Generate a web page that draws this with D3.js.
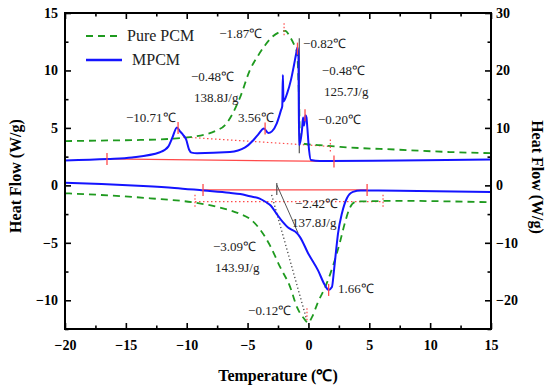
<!DOCTYPE html>
<html>
<head>
<meta charset="utf-8">
<script src="https://cdn.jsdelivr.net/npm/d3@7"></script>
<style>
  body { margin: 0; background: #fff; }
  text { font-family: "Liberation Serif", "Times New Roman", serif; }
</style>
</head>
<body>
<svg id="chart" width="550" height="389"></svg>
<script>
// ---- data ----
// MPCM, heating (upper blue, left axis W/g)
const mpcmHeatT = [-20, -16.5, -14.5, -12.2, -11.5, -11.2, -10.8, -10.55, -10.3, -10.05, -9.8, -9.6, -9.15, -6.45, -5.2, -4.55, -4.15, -3.65, -3.3, -3.0, -2.6, -2.25, -2.15, -2.1, -2.05, -1.75, -1.43, -1.18, -1.0, -0.9, -0.82, -0.77, -0.69, -0.53, -0.44, -0.36, -0.24, -0.16, -0.11, 0.05, 0.2, 0.95, 7.5, 15];
const mpcmHeatQ = [2.17, 2.3, 2.43, 2.88, 3.4, 4.1, 5.04, 4.7, 4.4, 4.0, 3.1, 2.85, 2.8, 2.9, 3.3, 3.9, 4.4, 4.95, 4.55, 4.7, 5.4, 6.55, 6.9, 9.6, 7.3, 8.0, 9.2, 10.5, 11.5, 12.0, 11.3, 3.5, 3.7, 4.8, 5.9, 5.2, 6.1, 5.9, 5.3, 3.1, 2.2, 2.12, 2.17, 2.25];
// Pure PCM, heating (upper green, right axis W/g)
const pureHeatT = [-20, -17.1, -13.8, -11.3, -9.7, -8.4, -7.6, -6.85, -6.3, -5.6, -4.8, -4.1, -3.56, -3.0, -2.33, -1.9, -1.5, -1.1, -0.94, -0.77, -0.69, -0.28, 0.95, 2.6, 7.5, 11.6, 15];
const pureHeatQ = [7.7, 7.8, 7.9, 8.1, 8.4, 8.9, 9.5, 10.5, 12.2, 15.4, 20.1, 22.7, 24.4, 25.8, 26.7, 26.9, 25.8, 24.1, 23.2, 14.9, 7.9, 7.2, 7.0, 6.7, 6.2, 5.8, 5.6];
// MPCM, cooling (lower blue, left axis)
const mpcmCoolT = [-20, -17, -14, -11, -8.6, -6.5, -5.6, -4.8, -4.0, -3.5, -3.1, -2.6, -2.1, -1.7, -1.35, -1.0, -0.69, -0.03, 0.79, 1.36, 1.66, 1.93, 2.1, 2.27, 2.43, 2.76, 3.17, 3.66, 4.3, 7.5, 15];
const mpcmCoolQ = [0.23, 0.12, -0.03, -0.22, -0.45, -0.65, -0.75, -0.95, -1.15, -1.45, -1.75, -2.5, -3.2, -3.65, -3.88, -4.1, -4.5, -5.9, -7.4, -8.7, -9.1, -8.85, -7.4, -5.7, -4.2, -2.4, -1.1, -0.57, -0.45, -0.46, -0.57];
// Pure PCM, cooling (lower green, right axis)
const pureCoolT = [-20, -17.1, -13, -9.35, -7.3, -5.6, -4.8, -4.0, -3.15, -2.33, -1.5, -0.94, -0.28, -0.03, 0.3, 0.79, 1.36, 2.02, 2.6, 3.0, 3.4, 3.83, 4.24, 7.5, 15];
const pureCoolQ = [-1.38, -1.67, -2.25, -3.0, -3.85, -4.98, -5.85, -7.6, -10.5, -14.2, -17.7, -21.2, -23.4, -23.95, -22.9, -20.3, -17.8, -14.0, -9.8, -6.5, -3.93, -2.9, -2.8, -2.7, -2.94];

// integration baselines (red)
const mpcmHeatBaseT = [-16.55, 2.1], mpcmHeatBaseQ = [2.3, 2.08];
const pureHeatBaseT = [-10.3, 1.8], pureHeatBaseQ = [8.42, 6.77];
const mpcmCoolBaseT = [-8.66, 4.82], mpcmCoolBaseQ = [-0.4, -0.4];
const pureCoolBaseT = [-9.32, 6.13], pureCoolBaseQ = [-2.84, -2.84];

// red tick marks: solid ones on MPCM (left axis), dotted on pure PCM (right axis)
const mpcmMarkT = [-10.71, -3.56, -0.9, -0.28, 1.66, -16.55, 2.1, -8.66, 4.82];
const mpcmMarkQ = [5.0, 4.95, 11.9, 6.1, -9.1, 2.3, 2.08, -0.4, -0.4];
const pureMarkT = [-2.0, -0.12, 1.8, -9.32, 6.13];
const pureMarkQ = [27.0, -22.6, 6.77, -2.84, -2.84];

// grey tangent / onset lines
const heatOnsetT = [-0.75, -0.75], heatOnsetQ = [2.8, 12.8];        // left axis
const coolTangentT = [-2.6, -0.85], coolTangentQ = [0.05, -4.15];  // left axis
const coolDotT = [-3.02, -0.14], coolDotQ = [-1.67, -23.4];        // right axis
const coolOnsetT = -2.6, coolOnsetQ = -0.4;

// annotations (position in temperature / left-axis units)
const noteText = ['−1.87℃', '−0.82℃', '−0.48℃', '138.8J/g', '−10.71℃', '3.56℃', '−0.48℃', '125.7J/g', '−0.20℃', '−2.42℃', '137.8J/g', '−3.09℃', '143.9J/g', '−0.12℃', '1.66℃'];
const noteT = [-7.33, -0.44, -9.65, -9.4, -14.99, -5.78, 1.1, 1.28, 0.79, -1.1, -1.35, -7.84, -7.67, -4.96, 2.43];
const noteQ = [12.83, 11.96, 9.09, 7.26, 5.52, 5.52, 9.61, 7.78, 5.34, -1.97, -3.62, -5.71, -7.54, -11.28, -9.36];

const seriesNames = ['Pure PCM', 'MPCM'];

// ---- layout ----
const svg = d3.select('#chart');
const L = 65, R = 491, T = 13, B = 329;
const green = '#1f9a1f', blue = '#1414ff', red = '#ff4a4a', grey = '#555';

const x = d3.scaleLinear().domain([-20, 15]).range([L, R]);
const yL = d3.scaleLinear().domain([-12.5, 15]).range([B, T]);
const yR = d3.scaleLinear().domain([-25, 30]).range([B, T]);

const zip = (a, b) => a.map((v, i) => [v, b[i]]);
const lineOn = (ys, curve) => d3.line().x(d => x(d[0])).y(d => ys(d[1])).curve(curve || d3.curveLinear);

svg.append('clipPath').attr('id', 'plot')
  .append('rect').attr('x', L).attr('y', T).attr('width', R - L).attr('height', B - T);

const g = svg.append('g').attr('clip-path', 'url(#plot)');

// baselines
g.append('path').attr('d', lineOn(yL)(zip(mpcmHeatBaseT, mpcmHeatBaseQ)))
  .attr('fill', 'none').attr('stroke', red).attr('stroke-width', 1.3);
g.append('path').attr('d', lineOn(yL)(zip(mpcmCoolBaseT, mpcmCoolBaseQ)))
  .attr('fill', 'none').attr('stroke', red).attr('stroke-width', 1.3);
g.append('path').attr('d', lineOn(yR)(zip(pureHeatBaseT, pureHeatBaseQ)))
  .attr('fill', 'none').attr('stroke', red).attr('stroke-width', 1.2).attr('stroke-dasharray', '1.5,2.5');
g.append('path').attr('d', lineOn(yR)(zip(pureCoolBaseT, pureCoolBaseQ)))
  .attr('fill', 'none').attr('stroke', red).attr('stroke-width', 1.2).attr('stroke-dasharray', '1.5,2.5');

// tangents
g.append('path').attr('d', lineOn(yL)(zip(heatOnsetT, heatOnsetQ)))
  .attr('stroke', grey).attr('stroke-width', 1.2);
g.append('path').attr('d', lineOn(yL)(zip(coolTangentT, coolTangentQ)))
  .attr('stroke', grey).attr('stroke-width', 1);
g.append('path').attr('d', lineOn(yR)(zip(coolDotT, coolDotQ)))
  .attr('stroke', '#333').attr('stroke-width', 1.2).attr('stroke-dasharray', '1.2,2.5');
g.append('line')
  .attr('x1', x(coolOnsetT)).attr('x2', x(coolOnsetT))
  .attr('y1', yL(coolOnsetQ) - 7).attr('y2', yL(coolOnsetQ) + 5)
  .attr('stroke', grey).attr('stroke-width', 1.2);

// curves
const curve = d3.curveMonotoneX;
[[pureHeatT, pureHeatQ], [pureCoolT, pureCoolQ]].forEach(([t, q]) => {
  g.append('path').attr('d', lineOn(yR, curve)(zip(t, q)))
    .attr('fill', 'none').attr('stroke', green).attr('stroke-width', 1.8)
    .attr('stroke-dasharray', '7,5');
});
[[mpcmHeatT, mpcmHeatQ], [mpcmCoolT, mpcmCoolQ]].forEach(([t, q]) => {
  g.append('path').attr('d', lineOn(yL, curve)(zip(t, q)))
    .attr('fill', 'none').attr('stroke', blue).attr('stroke-width', 2);
});

// red tick marks
g.selectAll('line.mk').data(zip(mpcmMarkT, mpcmMarkQ)).enter().append('line')
  .attr('x1', d => x(d[0])).attr('x2', d => x(d[0]))
  .attr('y1', d => yL(d[1]) - 6).attr('y2', d => yL(d[1]) + 6)
  .attr('stroke', red).attr('stroke-width', 1.3);
g.selectAll('line.mkd').data(zip(pureMarkT, pureMarkQ)).enter().append('line')
  .attr('x1', d => x(d[0])).attr('x2', d => x(d[0]))
  .attr('y1', d => yR(d[1]) - 7).attr('y2', d => yR(d[1]) + 7)
  .attr('stroke', red).attr('stroke-width', 1.2).attr('stroke-dasharray', '1.5,2');

// annotations
svg.append('g').selectAll('text').data(noteText).enter().append('text')
  .attr('x', (d, i) => x(noteT[i])).attr('y', (d, i) => yL(noteQ[i]))
  .attr('font-size', 13).attr('fill', '#222').text(d => d);

// ---- axes ----
const major = d3.range(-20, 15.1, 5), minor = d3.range(-17.5, 15, 5);
const leftMajor = d3.range(-10, 15.1, 5), leftMinor = d3.range(-12.5, 15, 5);
const rightMajor = d3.range(-20, 30.1, 10), rightMinor = d3.range(-25, 30, 10);

function styleAxis(sel) {
  sel.select('.domain').remove();
  sel.selectAll('line').attr('stroke', '#000').attr('stroke-width', 1.6);
  sel.selectAll('text').attr('font-size', 14).attr('font-weight', 'bold')
    .attr('font-family', '"Liberation Serif", "Times New Roman", serif').attr('fill', '#000');
}
const fmt = d3.format('d');

svg.append('g').attr('transform', `translate(0,${B})`)
  .call(d3.axisBottom(x).tickValues(major).tickFormat(fmt).tickSizeInner(-6).tickSizeOuter(0).tickPadding(11))
  .call(styleAxis);
svg.append('g').attr('transform', `translate(0,${B})`)
  .call(d3.axisBottom(x).tickValues(minor).tickFormat('').tickSizeInner(-3.5).tickSizeOuter(0))
  .call(styleAxis);
svg.append('g').attr('transform', `translate(0,${T})`)
  .call(d3.axisTop(x).tickValues(major).tickFormat('').tickSizeInner(-6).tickSizeOuter(0))
  .call(styleAxis);
svg.append('g').attr('transform', `translate(0,${T})`)
  .call(d3.axisTop(x).tickValues(minor).tickFormat('').tickSizeInner(-3.5).tickSizeOuter(0))
  .call(styleAxis);

svg.append('g').attr('transform', `translate(${L},0)`)
  .call(d3.axisLeft(yL).tickValues(leftMajor).tickFormat(fmt).tickSizeInner(-6).tickSizeOuter(0).tickPadding(7))
  .call(styleAxis);
svg.append('g').attr('transform', `translate(${L},0)`)
  .call(d3.axisLeft(yL).tickValues(leftMinor).tickFormat('').tickSizeInner(-3.5).tickSizeOuter(0))
  .call(styleAxis);
svg.append('g').attr('transform', `translate(${R},0)`)
  .call(d3.axisRight(yR).tickValues(rightMajor).tickFormat(fmt).tickSizeInner(-6).tickSizeOuter(0).tickPadding(5))
  .call(styleAxis);
svg.append('g').attr('transform', `translate(${R},0)`)
  .call(d3.axisRight(yR).tickValues(rightMinor).tickFormat('').tickSizeInner(-3.5).tickSizeOuter(0))
  .call(styleAxis);

// frame
svg.append('rect').attr('x', L).attr('y', T).attr('width', R - L).attr('height', B - T)
  .attr('fill', 'none').attr('stroke', '#000').attr('stroke-width', 2);

// axis titles
svg.append('text').attr('transform', `translate(21,${(T + B) / 2 + 5}) rotate(-90)`)
  .attr('text-anchor', 'middle').attr('font-size', 16).attr('font-weight', 'bold')
  .text('Heat Flow (W/g)');
svg.append('text').attr('transform', `translate(532,${(T + B) / 2 + 6}) rotate(90)`)
  .attr('text-anchor', 'middle').attr('font-size', 16).attr('font-weight', 'bold')
  .text('Heat Flow (W/g)');
svg.append('text').attr('x', (L + R) / 2).attr('y', 381)
  .attr('text-anchor', 'middle').attr('font-size', 16).attr('font-weight', 'bold')
  .text('Temperature (℃)');

// legend
const leg = svg.append('g');
const legY = [36, 60];
leg.selectAll('line').data(seriesNames).enter().append('line')
  .attr('x1', 86).attr('x2', 122)
  .attr('y1', (d, i) => legY[i]).attr('y2', (d, i) => legY[i])
  .attr('stroke', (d, i) => i ? blue : green)
  .attr('stroke-width', (d, i) => i ? 2.5 : 1.8)
  .attr('stroke-dasharray', (d, i) => i ? null : '7,5');
leg.selectAll('text').data(seriesNames).enter().append('text')
  .attr('x', (d, i) => i ? 132 : 127).attr('y', (d, i) => legY[i] + 5)
  .attr('font-size', 16).attr('fill', '#222').text(d => d);
</script>
</body>
</html>
